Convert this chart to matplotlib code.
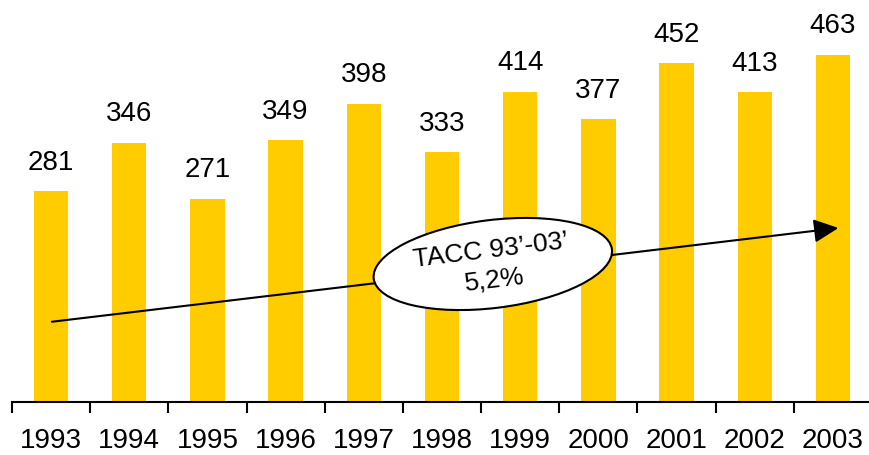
import matplotlib
matplotlib.use("Agg")
import matplotlib.pyplot as plt
import numpy as np
from matplotlib.patches import Ellipse, FancyArrowPatch
from matplotlib.transforms import ScaledTranslation

years = ['1993', '1994', '1995', '1996', '1997', '1998',
         '1999', '2000', '2001', '2002', '2003']
values = [281, 346, 271, 349, 398, 333, 414, 377, 452, 413, 463]

trend_start = (0.01, 107)
trend_end = (10.07, 232)
label_pos = (5.65, 184)
label_text = 'TACC 93\u2019-03\u2019\n5,2%'

bar_color = '#FFCC00'
plt.rcParams['font.family'] = ['Liberation Sans', 'DejaVu Sans']

fig = plt.figure(figsize=(8.7, 4.55), dpi=100)
ax = fig.add_axes([12 / 870, 53 / 455, 860 / 870, 402 / 455])

x = np.arange(len(years))
bars = ax.bar(x, values, width=0.44, color=bar_color, zorder=1)

for xi, v in zip(x, values):
    ax.annotate(str(v), (xi, v), xytext=(0, 11), textcoords='offset points',
                ha='center', va='bottom', fontsize=20)

ax.set_xlim(-0.5, 10.5)
ax.set_ylim(0, 536)

for s in ['top', 'right', 'left']:
    ax.spines[s].set_visible(False)
ax.spines['bottom'].set_linewidth(1.5)
ax.set_yticks([])

ax.set_xticks(np.arange(-0.5, 11, 1.0))
ax.set_xticklabels([])
ax.tick_params(axis='x', which='major', direction='out', length=8, width=1.5)
ax.set_xticks(x, years, minor=True)
ax.tick_params(axis='x', which='minor', length=0, pad=19, labelsize=20)

arrow = FancyArrowPatch(trend_start, trend_end,
                        arrowstyle='-|>,head_length=1.5,head_width=0.72',
                        mutation_scale=10, color='black', lw=1.5,
                        shrinkA=0, shrinkB=0, zorder=3)
ax.add_patch(arrow)

tr = fig.dpi_scale_trans + ScaledTranslation(label_pos[0], label_pos[1], ax.transData)
ell = Ellipse((0, 0), 2.4, 0.88, angle=7, transform=tr,
              facecolor='white', edgecolor='black', lw=1.5, zorder=4)
ax.add_patch(ell)
ax.text(label_pos[0], label_pos[1] - 2, label_text, ha='center', va='center',
        rotation=7, rotation_mode='anchor', multialignment='center',
        fontsize=19, zorder=5, linespacing=1.3)

fig.savefig('out.png', dpi=100)
